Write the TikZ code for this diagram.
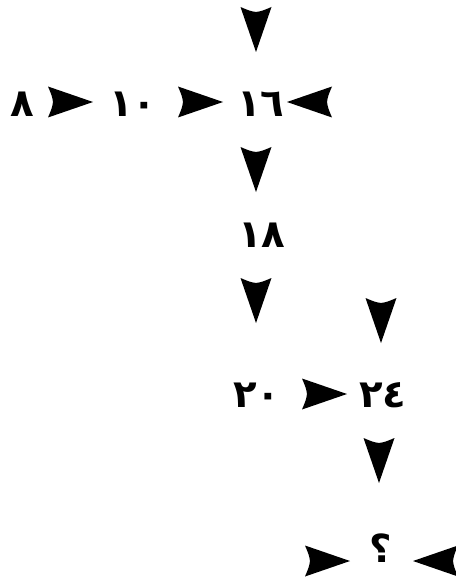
\documentclass[tikz,border=0pt]{standalone}
\usepackage{fontspec}
\newfontfamily\arabicfont[Script=Arabic]{DejaVu Sans}
\usetikzlibrary{positioning}

\begin{document}
\begin{tikzpicture}[
    x=0.75pt, y=-0.75pt,
    num/.style={font=\arabicfont\bfseries\fontsize{29}{31}\selectfont, anchor=base, inner sep=0pt},
    head/.pic={
        \fill (0,0) .. controls (-22,-7.5) .. (-45,-15.5)
            .. controls (-41,-6) .. (-40,0)
            .. controls (-41,6) .. (-45,15.5)
            .. controls (-22,7.5) .. (0,0);
    }
]
    \useasboundingbox (0,0) rectangle (456,581);

    % Numbers
    \node[num] (n8)  at (22,117)  {٨};
    \node[num] (n10) at (133,117) {١٠};
    \node[num] (n16) at (261,117) {١٦};
    \node[num] (n18) at (262,247) {١٨};
    \node[num] (n20) at (257,407) {٢٠};
    \node[num] (n24) at (383,407) {٢٤};
    \node[num] (q)   at (381,562) {؟};

    % Arrowheads pointing down
    \pic[rotate=-90] at (256,52)  {head};
    \pic[rotate=-90] at (256,192) {head};
    \pic[rotate=-90] at (256,323) {head};
    \pic[rotate=-90] at (381,343) {head};
    \pic[rotate=-90] at (379,483) {head};

    % Arrowheads pointing right
    \pic at (93,102)  {head};
    \pic at (223,102) {head};
    \pic at (347,394) {head};
    \pic at (350,561) {head};

    % Arrowheads pointing left
    \pic[rotate=180] at (287,102) {head};
    \pic[rotate=180] at (413,561) {head};
\end{tikzpicture}
\end{document}
